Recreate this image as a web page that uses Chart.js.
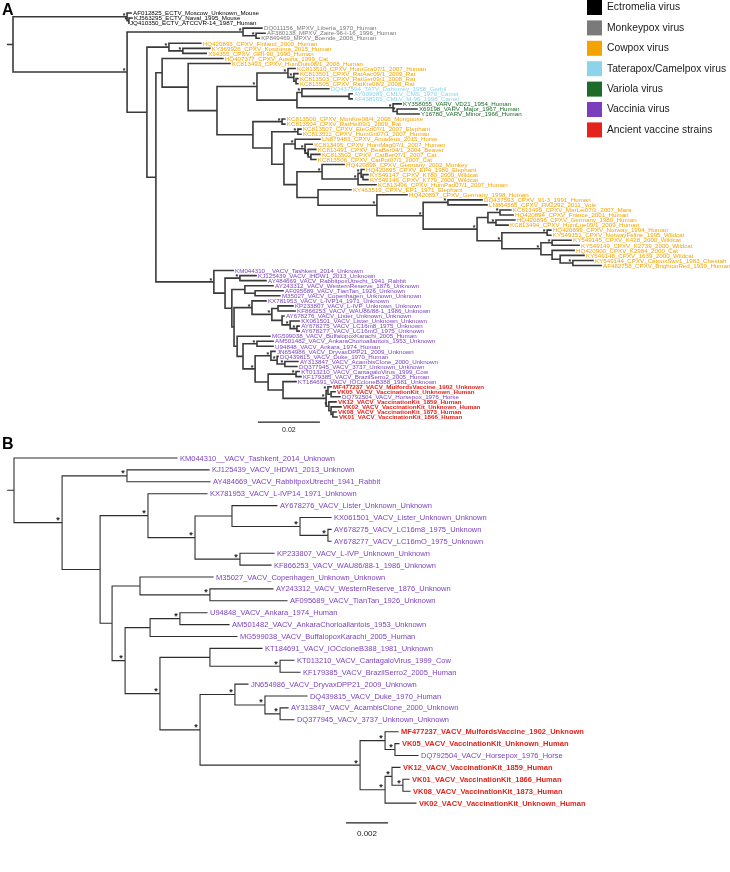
<!DOCTYPE html>
<html>
<head>
<meta charset="utf-8">
<script src="https://cdn.jsdelivr.net/npm/chart.js@4.4.0/dist/chart.umd.min.js"></script>
<style>
    body { margin: 0; background: #fff; }
    .panel { position: absolute; left: 0; width: 730px; }
    #wrapA { top: 0; height: 436px; }
    #wrapB { top: 436px; height: 436px; }
</style>
</head>
<body>
<div class="panel" id="wrapA"><canvas id="treeA" width="730" height="436"></canvas></div>
<div class="panel" id="wrapB"><canvas id="treeB" width="730" height="436"></canvas></div>
<script>
// Colores por grupo de virus (mismo orden que la leyenda)
const groupColours = ["#000000", "#7a7a7a", "#f5a300", "#8dd3ea", "#1d6b28", "#7b3fbe", "#e3231c"];
const legendLabels = ["Ectromelia virus", "Monkeypox virus", "Cowpox virus", "Taterapox/Camelpox virus",
    "Variola virus", "Vaccinia virus", "Ancient vaccine strains"];

// ---------- Panel A ----------
const tipNamesA = [
    "AF012825_ECTV_Moscow_Unknown_Mouse", "KJ563295_ECTV_Naval_1995_Mouse", "JQ410350_ECTV_ATCCVR-14_1987_Human",
    "DQ011156_MPXV_Liberia_1970_Human", "AF380138_MPXV_Zaire-96-I-16_1996_Human", "KP849469_MPXV_Boende_2008_Human",
    "HQ420893_CPXV_Finland_2000_Human", "KY369926_CPXV_Kostroma_2015_Human", "X94355_CPXV_GRI-90_1990_Human",
    "HQ407377_CPXV_Austria_1999_Cat", "KC813493_CPXV_HumDuis08/1_2008_Human", "KC813510_CPXV_HumGra07/1_2007_Human",
    "KC813501_CPXV_RatAac09/1_2009_Rat", "KC813503_CPXV_RatGer09/1_2008_Rat", "KC813505_CPXV_RatKre08/2_2008_Rat",
    "DQ437594_TATV_Dahomey_1968_Gerbil", "AY009089_CMLV_CMS_1970_Camel", "AF438165_CMLV_M-96_1996_Camel",
    "KY358055_VARV_VD21_1954_Human", "X69198_VARV_Major_1967_Human", "Y16780_VARV_Minor_1966_Human",
    "KC813500_CPXV_MonKre08/4_2008_Mongoose", "KC813504_CPXV_RatHei09/1_2009_Rat", "KC813507_CPXV_EleGri07/1_2007_Elephant",
    "KC813511_CPXV_HumGri07/1_2007_Human", "LN879483_CPXV_Amadeus_2015_Horse", "KC813495_CPXV_HumMag07/1_2007_Human",
    "KC813491_CPXV_BeaBer04/1_2004_Beaver", "KC813502_CPXV_CatBer07/1_2007_Cat", "KC813506_CPXV_CatPot07/1_2007_Cat",
    "HQ420898_CPXV_Germany_2002_Monkey", "HQ420895_CPXV_EP4_1980_Elephant", "KY549147_CPXV_K780_2000_Wildcat",
    "KY549146_CPXV_K779_2000_Wildcat", "KC813496_CPXV_HumPad07/1_2007_Human", "KY463519_CPXV_EP1_1971_Elephant",
    "HQ420897_CPXV_Germany_1998_Human", "DQ437593_CPXV_91-3_1991_Human", "LN864565_CPXV_FM2292_2011_Vole",
    "KC813499_CPXV_MarLei07/1_2007_Mara", "HQ420894_CPXV_France_2001_Human", "HQ420896_CPXV_Germany_1980_Human",
    "KC813494_CPXV_HumLue09/1_2009_Human", "HQ420899_CPXV_Norway_1994_Human", "KY549151_CPXV_NorwayFeline_1995_Wildcat",
    "KY549145_CPXV_K428_2000_Wildcat", "KY549149_CPXV_K2739_2000_Wildcat", "HQ420900_CPXV_K2984_2000_Cat",
    "KY549148_CPXV_1639_2000_Wildcat", "KY549144_CPXV_CatpoxSwv1_1983_Cheetah", "AF482758_CPXV_BrightonRed_1939_Human",
    "KM044310__VACV_Tashkent_2014_Unknown", "KJ125439_VACV_IHDW1_2013_Unknown", "AY484669_VACV_RabbitpoxUtrecht_1941_Rabbit",
    "AY243312_VACV_WesternReserve_1876_Unknown", "AF095689_VACV_TianTan_1926_Unknown", "M35027_VACV_Copenhagen_Unknown_Unknown",
    "KX781953_VACV_L-IVP14_1971_Unknown", "KP233807_VACV_L-IVP_Unknown_Unknown", "KF866253_VACV_WAU86/88-1_1986_Unknown",
    "AY678276_VACV_Lister_Unknown_Unknown", "KX061501_VACV_Lister_Unknown_Unknown", "AY678275_VACV_LC16m8_1975_Unknown",
    "AY678277_VACV_LC16mO_1975_Unknown", "MG599038_VACV_BuffalopoxKarachi_2005_Human", "AM501482_VACV_AnkaraChorioallantois_1953_Unknown",
    "U94848_VACV_Ankara_1974_Human", "JN654986_VACV_DryvaxDPP21_2009_Unknown", "DQ439815_VACV_Duke_1970_Human",
    "AY313847_VACV_AcambisClone_2000_Unknown", "DQ377945_VACV_3737_Unknown_Unknown", "KT013210_VACV_CantagaloVirus_1999_Cow",
    "KF179385_VACV_BrazilSerro2_2005_Human", "KT184691_VACV_IOCcloneB388_1981_Unknown", "MF477237_VACV_MulfordsVaccine_1902_Unknown",
    "VK05_VACV_VaccinationKit_Unknown_Human", "DQ792504_VACV_Horsepox_1976_Horse", "VK12_VACV_VaccinationKit_1859_Human",
    "VK02_VACV_VaccinationKit_Unknown_Human", "VK08_VACV_VaccinationKit_1873_Human", "VK01_VACV_VaccinationKit_1866_Human"
];
const tipGroupA = [
    0, 0, 0, 1, 1, 1, 2, 2, 2, 2, 2, 2, 2, 2, 2, 3, 3, 3, 4, 4, 4,
    2, 2, 2, 2, 2, 2, 2, 2, 2, 2, 2, 2, 2, 2, 2, 2, 2, 2, 2, 2, 2, 2, 2, 2, 2, 2, 2, 2, 2, 2,
    5, 5, 5, 5, 5, 5, 5, 5, 5, 5, 5, 5, 5, 5, 5, 5, 5, 5, 5, 5, 5, 5, 5,
    6, 6, 5, 6, 6, 6, 6
];
// distancia desde la raiz (sustituciones/sitio)
const tipDistA = [
    0.0381, 0.0384, 0.0371, 0.0803, 0.0813, 0.0794, 0.0606, 0.0635, 0.0623, 0.0677,
    0.0700, 0.0910, 0.0919, 0.0919, 0.0919, 0.1019, 0.1094, 0.1094, 0.1252, 0.1303,
    0.1310, 0.0877, 0.0877, 0.0929, 0.0929, 0.0990, 0.0965, 0.0977, 0.0990, 0.0977,
    0.1068, 0.1132, 0.1145, 0.1145, 0.1171, 0.1090, 0.1271, 0.1513, 0.1529, 0.1606,
    0.1613, 0.1619, 0.1597, 0.1735, 0.1735, 0.1800, 0.1826, 0.1810, 0.1842, 0.1871,
    0.1897, 0.0710, 0.0784, 0.0816, 0.0839, 0.0871, 0.0861, 0.0816, 0.0903, 0.0910,
    0.0874, 0.0923, 0.0923, 0.0923, 0.0829, 0.0839, 0.0839, 0.0845, 0.0855, 0.0919,
    0.0916, 0.0923, 0.0929, 0.0913, 0.1026, 0.1039, 0.1055, 0.1042, 0.1058, 0.1042,
    0.1045
];
const nodeIdsA = [
    "root", "EC", "EC2", "N1", "M", "M2", "N2", "C1", "C2", "N3", "C3", "D", "E", "F", "H", "H2", "H3",
    "I", "K", "K2", "L", "L2", "G", "P", "Q", "S", "T", "U", "W1", "W2", "W3", "X", "Y", "Z", "Z2", "Z3",
    "AA", "AB", "AC", "AD", "AE", "AM", "AN", "AO", "AF", "AG", "AH", "AI", "AJ", "AK", "AL",
    "V", "VB", "VC", "VD", "VE", "VF", "VZ", "VH", "VK", "VL", "VM", "VN", "VO", "VG", "VT", "VU",
    "VV", "VW", "VX", "VY", "VP", "VQ", "VR", "VS", "VS1", "VS3", "VS2", "VS4", "VS5"
];
const nodeDistA = [
    0, 0.0368, 0.0374, 0.0368, 0.0742, 0.0784, 0.0432, 0.0503, 0.0548, 0.0461, 0.0481, 0.0565, 0.0658, 0.0787, 0.0887, 0.0906, 0.0913,
    0.0916, 0.0932, 0.1084, 0.1226, 0.1239, 0.0774, 0.0868, 0.0835, 0.0919, 0.0874, 0.0910, 0.0942, 0.0952, 0.0961, 0.0916, 0.0997, 0.1113, 0.1123, 0.1129,
    0.0984, 0.1174, 0.1323, 0.1403, 0.1497, 0.1532, 0.1571, 0.1558, 0.1577, 0.1723, 0.1703, 0.1739, 0.1739, 0.1765, 0.1806,
    0.0648, 0.0684, 0.0732, 0.0706, 0.0748, 0.0781, 0.0713, 0.0771, 0.0835, 0.0855, 0.0868, 0.0894, 0.0916, 0.0723, 0.0742, 0.0787,
    0.0781, 0.0832, 0.0852, 0.0877, 0.0823, 0.0913, 0.0871, 0.1010, 0.1016, 0.1026, 0.1019, 0.1026, 0.1032
];
const nodeKidsA = [
    ["EC", "N1"], [1, "EC2"], [2, 3], ["M", "N2"], [4, "M2"], [5, 6], ["C1", "N3"], [7, "C2"], [8, 9], ["C3", "V"],
    [10, "D"], [11, "E"], ["F", "G"], ["H", "I"], [12, "H2"], [13, "H3"], [14, 15],
    ["K", "L"], [16, "K2"], [17, 18], [19, "L2"], [20, 21], ["P", "Q"], [22, 23], ["S", "T"], [24, 25], ["U", "X"],
    [26, "W1"], [27, "W2"], [28, "W3"], [29, 30], ["Y", "AA"], [31, "Z"], ["Z2", 35], [32, "Z3"], [33, 34],
    [36, "AB"], [37, "AC"], ["AD", "AE"], [38, 39], ["AM", "AF"], ["AN", "AO"], [40, 41], [42, 43], ["AG", "AH"],
    [44, 45], ["AI", "AJ"], [46, 47], [48, "AK"], [49, "AL"], [50, 51],
    [52, "VB"], ["VC", "VD"], [53, 54], ["VE", "VZ"], [55, "VF"], [56, 57], ["VH", "VG"], [58, "VK"], ["VL", "VM"],
    [59, 60], [61, "VN"], [62, "VO"], [63, 64], [65, "VT"], ["VU", "VV"], [66, 67],
    ["VW", "VP"], [68, "VX"], [69, "VY"], [70, 71], ["VQ", "VR"], [72, 73], [74, "VS"], ["VS1", "VS2"], [75, "VS3"],
    [76, 77], [78, "VS4"], [79, "VS5"], [80, 81]
];
const starNodesA = [
    "EC", "EC2", "N1", "M", "M2", "C1", "C2", "F", "H", "H2", "K", "L", "L2", "P", "S", "U", "W1", "W2", "W3",
    "Y", "Z", "Z2", "AB", "AC", "AD", "AE", "AN", "AO", "AF", "AG", "AH", "AI", "AL",
    "V", "VC", "VH", "VK", "VN", "VO", "VU", "VV", "VW", "VX", "VY", "VQ", "VS", "VS1", "VS2"
];
const scaleBarA = 0.02;

// ---------- Panel B ----------
const tipNamesB = [
    "KM044310__VACV_Tashkent_2014_Unknown", "KJ125439_VACV_IHDW1_2013_Unknown", "AY484669_VACV_RabbitpoxUtrecht_1941_Rabbit",
    "KX781953_VACV_L-IVP14_1971_Unknown", "AY678276_VACV_Lister_Unknown_Unknown", "KX061501_VACV_Lister_Unknown_Unknown",
    "AY678275_VACV_LC16m8_1975_Unknown", "AY678277_VACV_LC16mO_1975_Unknown", "KP233807_VACV_L-IVP_Unknown_Unknown",
    "KF866253_VACV_WAU86/88-1_1986_Unknown", "M35027_VACV_Copenhagen_Unknown_Unknown", "AY243312_VACV_WesternReserve_1876_Unknown",
    "AF095689_VACV_TianTan_1926_Unknown", "U94848_VACV_Ankara_1974_Human", "AM501482_VACV_AnkaraChorioallantois_1953_Unknown",
    "MG599038_VACV_BuffalopoxKarachi_2005_Human", "KT184691_VACV_IOCcloneB388_1981_Unknown", "KT013210_VACV_CantagaloVirus_1999_Cow",
    "KF179385_VACV_BrazilSerro2_2005_Human", "JN654986_VACV_DryvaxDPP21_2009_Unknown", "DQ439815_VACV_Duke_1970_Human",
    "AY313847_VACV_AcambisClone_2000_Unknown", "DQ377945_VACV_3737_Unknown_Unknown", "MF477237_VACV_MulfordsVaccine_1902_Unknown",
    "VK05_VACV_VaccinationKit_Unknown_Human", "DQ792504_VACV_Horsepox_1976_Horse", "VK12_VACV_VaccinationKit_1859_Human",
    "VK01_VACV_VaccinationKit_1866_Human", "VK08_VACV_VaccinationKit_1873_Human", "VK02_VACV_VaccinationKit_Unknown_Human"
];
const tipGroupB = [5, 5, 5, 5, 5, 5, 5, 5, 5, 5, 5, 5, 5, 5, 5, 5, 5, 5, 5, 5, 5, 5, 5, 6, 6, 5, 6, 6, 6, 6];
const tipDistB = [
    0.00776, 0.00929, 0.00933, 0.00919, 0.01252, 0.01510, 0.01510, 0.01510, 0.01238, 0.01224,
    0.00948, 0.01233, 0.01300, 0.00919, 0.01024, 0.01062, 0.01181, 0.01333, 0.01362, 0.01114,
    0.01395, 0.01305, 0.01333, 0.01829, 0.01833, 0.01924, 0.01838, 0.01881, 0.01886, 0.01914
];
const nodeIdsB = ["r", "b1", "b2", "b3", "b4", "b5", "b6", "b7", "b7a", "b8", "b9", "b10", "b11", "b12", "b13", "b14",
    "b15", "b16", "b17", "b18", "b19", "b20", "b20a", "b21", "b22", "b22a", "b23", "b24", "b25"];
const nodeDistB = [0, 0.00229, 0.00538, 0.00410, 0.00638, 0.00862, 0.01038, 0.01362, 0.01495, 0.01076, 0.00467, 0.00600,
    0.00933, 0.00529, 0.00648, 0.00790, 0.00695, 0.00933, 0.01267, 0.00886, 0.01052, 0.01195, 0.01267, 0.01648, 0.01767,
    0.01814, 0.01767, 0.01800, 0.01852];
const nodeKidsB = [
    [1, "b1"], ["b2", "b3"], [2, 3], ["b4", "b9"], [4, "b5"], ["b6", "b8"], [5, "b7"], [6, "b7a"], [7, 8], [9, 10],
    ["b10", "b12"], [11, "b11"], [12, 13], ["b13", "b15"], ["b14", 16], [14, 15], ["b16", "b18"], [17, "b17"], [18, 19],
    ["b19", "b21"], [20, "b20"], [21, "b20a"], [22, 23], ["b22", "b23"], [24, "b22a"], [25, 26], ["b24", 30], [27, "b25"], [28, 29]
];
const starNodesB = ["b1", "b2", "b4", "b5", "b7", "b7a", "b8", "b11", "b12", "b14", "b15", "b17", "b18", "b19", "b20",
    "b20a", "b21", "b22", "b22a", "b23", "b24", "b25"];
const scaleBarB = 0.002;

// Construir segmentos del arbol (lineas verticales y horizontales)
function armarArbol(tipDist, nodeIds, nodeDist, nodeKids, stub) {
    const indice = {};
    nodeIds.forEach((id, i) => { indice[id] = i; });
    const segs = [];
    const nodos = {};

    function ubicar(ref) {
        if (typeof ref === "number") return { x: tipDist[ref - 1], y: ref };
        const i = indice[ref];
        const hijos = nodeKids[i].map(ubicar);
        const x = nodeDist[i];
        const y = (hijos[0].y + hijos[hijos.length - 1].y) / 2;
        segs.push({ x: x, y: hijos[0].y }, { x: x, y: hijos[hijos.length - 1].y }, { x: x, y: null });
        hijos.forEach(h => {
            segs.push({ x: x, y: h.y }, { x: h.x, y: h.y }, { x: h.x, y: null });
        });
        nodos[ref] = { x: x, y: y };
        return { x: x, y: y };
    }

    const raiz = ubicar(nodeIds[0]);
    segs.push({ x: raiz.x - stub, y: raiz.y }, { x: raiz.x, y: raiz.y }, { x: raiz.x, y: null });
    return { segs: segs, nodos: nodos };
}

// Textos: etiquetas, asteriscos, leyenda, barra de escala y letra del panel
const textoArbol = {
    id: "textoArbol",
    afterDatasetsDraw(chart, args, o) {
        const ctx = chart.ctx;
        const xs = chart.scales.x;
        const ys = chart.scales.y;
        ctx.save();
        ctx.textBaseline = "middle";
        ctx.textAlign = "left";
        o.names.forEach((nombre, i) => {
            const g = o.groups[i];
            ctx.fillStyle = groupColours[g];
            ctx.font = (g === 6 ? "bold " : "") + o.tipFont;
            ctx.fillText(nombre, xs.getPixelForValue(o.dist[i]) + o.gap, ys.getPixelForValue(i + 1) + 0.5);
        });

        ctx.fillStyle = "#222";
        ctx.font = o.starFont;
        ctx.textAlign = "center";
        o.stars.forEach(id => {
            const n = o.nodos[id];
            ctx.fillText("*", xs.getPixelForValue(n.x) - o.starDx, ys.getPixelForValue(n.y) + o.starDy);
        });

        // barra de escala
        ctx.fillStyle = "#222";
        ctx.font = o.scaleFont;
        ctx.fillText(o.scaleText, xs.getPixelForValue(o.scaleStart + o.scaleLen / 2), ys.getPixelForValue(o.scaleRow) + o.scaleTextDy);

        // letra del panel
        ctx.textAlign = "left";
        ctx.textBaseline = "top";
        ctx.fillStyle = "#000";
        ctx.font = "bold 16px 'Liberation Sans', Arial, sans-serif";
        ctx.fillText(o.letter, 2, o.letterY);

        if (o.legend) {
            ctx.textBaseline = "middle";
            ctx.font = "10.3px 'Liberation Sans', Arial, sans-serif";
            legendLabels.forEach((txt, i) => {
                const cy = 7.5 + i * 20.4;
                ctx.fillStyle = groupColours[i];
                ctx.fillRect(587, cy - 7.5, 15, 15);
                ctx.fillStyle = "#1a1a1a";
                ctx.fillText(txt, 607, cy);
            });
        }
        ctx.restore();
    }
};

function crearPanel(canvasId, arbol, cfg) {
    return new Chart(document.getElementById(canvasId), {
        type: "scatter",
        data: {
            datasets: [{
                data: arbol.segs,
                showLine: true,
                spanGaps: false,
                borderColor: cfg.lineColour,
                borderWidth: cfg.lineWidth,
                borderCapStyle: "square",
                pointRadius: 0,
                pointHoverRadius: 0,
                clip: false
            }, {
                data: [{ x: cfg.text.scaleStart, y: cfg.text.scaleRow }, { x: cfg.text.scaleStart + cfg.text.scaleLen, y: cfg.text.scaleRow }],
                showLine: true,
                borderColor: "#222",
                borderWidth: 1.2,
                pointRadius: 0,
                clip: false
            }]
        },
        options: {
            responsive: false,
            animation: false,
            devicePixelRatio: 1,
            layout: { padding: 0 },
            plugins: {
                legend: { display: false },
                tooltip: { enabled: false },
                textoArbol: cfg.text
            },
            scales: {
                x: { type: "linear", display: false, min: cfg.xmin, max: cfg.xmax },
                y: { type: "linear", display: false, min: cfg.ymin, max: cfg.ymax, reverse: true }
            }
        },
        plugins: [textoArbol]
    });
}

const arbolA = armarArbol(tipDistA, nodeIdsA, nodeDistA, nodeKidsA, 0.0017);
crearPanel("treeA", arbolA, {
    lineColour: "#3a3a3a", lineWidth: 1.6,
    xmin: -13 / 3100, xmax: 717 / 3100,
    ymin: 1 - 13 / 5.05, ymax: 1 + 423 / 5.05,
    text: {
        names: tipNamesA, groups: tipGroupA, dist: tipDistA, nodos: arbolA.nodos, stars: starNodesA,
        tipFont: "6.2px 'Liberation Sans', Arial, sans-serif", gap: 2,
        starFont: "bold 7px 'Liberation Sans', Arial, sans-serif", starDx: 3, starDy: -1,
        scaleStart: 0.0790, scaleLen: scaleBarA, scaleRow: 82.0, scaleText: "0.02", scaleTextDy: 8,
        scaleFont: "7px 'Liberation Sans', Arial, sans-serif",
        letter: "A", letterY: 3, legend: true
    }
});

const arbolB = armarArbol(tipDistB, nodeIdsB, nodeDistB, nodeKidsB, 0.0003);
crearPanel("treeB", arbolB, {
    lineColour: "#2e2e2e", lineWidth: 1.1,
    xmin: -14 / 21000, xmax: 716 / 21000,
    ymin: 1 - 22 / 11.9, ymax: 1 + 414 / 11.9,
    text: {
        names: tipNamesB, groups: tipGroupB, dist: tipDistB, nodos: arbolB.nodos, stars: starNodesB,
        tipFont: "7.5px 'Liberation Sans', Arial, sans-serif", gap: 3,
        starFont: "bold 9px 'Liberation Sans', Arial, sans-serif", starDx: 4, starDy: -2,
        scaleStart: 0.01581, scaleLen: scaleBarB, scaleRow: 31.67, scaleText: "0.002", scaleTextDy: 11,
        scaleFont: "8px 'Liberation Sans', Arial, sans-serif",
        letter: "B", letterY: 1, legend: false
    }
});
</script>
</body>
</html>
